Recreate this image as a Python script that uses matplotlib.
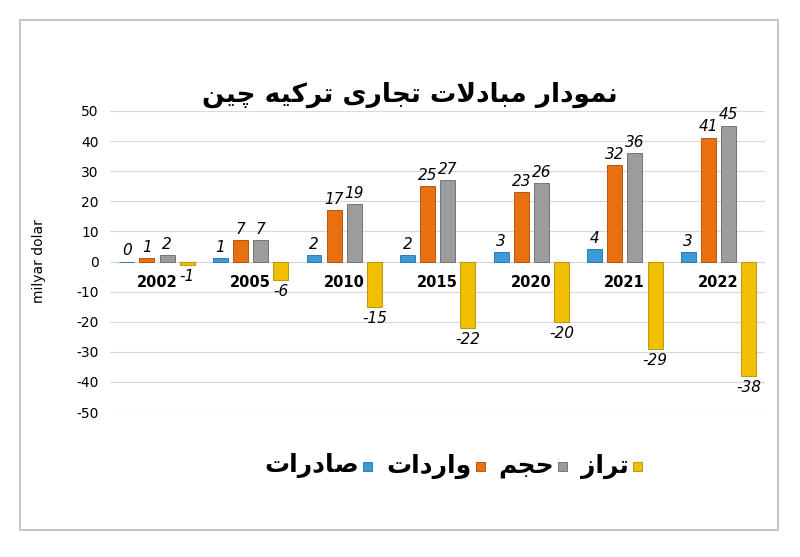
import matplotlib
matplotlib.use("Agg")
import matplotlib.pyplot as plt
from matplotlib.patches import Rectangle

plt.rcParams['axes.unicode_minus'] = False

years = ["2002", "2005", "2010", "2015", "2020", "2021", "2022"]
exports = [0, 1, 2, 2, 3, 4, 3]
imports = [1, 7, 17, 25, 23, 32, 41]
volume = [2, 7, 19, 27, 26, 36, 45]
balance = [-1, -6, -15, -22, -20, -29, -38]
series_names = ["صادرات", "واردات", "حجم", "تراز"]
title = "نمودار مبادلات تجاری ترکیه چین"

FORMS = {  # isol, fina, init, medi
    'ا': (0xFE8D, 0xFE8E, None, None), 'ب': (0xFE8F, 0xFE90, 0xFE91, 0xFE92),
    'ت': (0xFE95, 0xFE96, 0xFE97, 0xFE98), 'ج': (0xFE9D, 0xFE9E, 0xFE9F, 0xFEA0),
    'ح': (0xFEA1, 0xFEA2, 0xFEA3, 0xFEA4), 'د': (0xFEA9, 0xFEAA, None, None),
    'ر': (0xFEAD, 0xFEAE, None, None), 'ز': (0xFEAF, 0xFEB0, None, None),
    'ص': (0xFEB9, 0xFEBA, 0xFEBB, 0xFEBC), 'ل': (0xFEDD, 0xFEDE, 0xFEDF, 0xFEE0),
    'م': (0xFEE1, 0xFEE2, 0xFEE3, 0xFEE4), 'ن': (0xFEE5, 0xFEE6, 0xFEE7, 0xFEE8),
    'ه': (0xFEE9, 0xFEEA, 0xFEEB, 0xFEEC), 'و': (0xFEED, 0xFEEE, None, None),
    'ی': (0xFBFC, 0xFBFD, 0xFBFE, 0xFBFF), 'ک': (0xFB8E, 0xFB8F, 0xFB90, 0xFB91),
    'چ': (0xFB7A, 0xFB7B, 0xFB7C, 0xFB7D),
    'LA': (0xFEFB, 0xFEFC, None, None),
}

def shape(text):
    chars = list(text)
    toks = []
    i = 0
    while i < len(chars):
        if chars[i] == 'ل' and i + 1 < len(chars) and chars[i + 1] == 'ا':
            toks.append('LA'); i += 2
        else:
            toks.append(chars[i]); i += 1
    out = []
    for k, t in enumerate(toks):
        if t not in FORMS:
            out.append(t); continue
        prev = toks[k - 1] if k > 0 else None
        nxt = toks[k + 1] if k + 1 < len(toks) else None
        pj = prev in FORMS and FORMS[prev][2] is not None
        nj = FORMS[t][2] is not None and nxt in FORMS
        f = FORMS[t]
        if pj and nj: c = f[3]
        elif pj: c = f[1]
        elif nj: c = f[2]
        else: c = f[0]
        out.append(chr(c))
    return "".join(out)[::-1]

colors = ["#3E9AD6", "#E8700F", "#9C9C9C", "#F0C000"]
edges = ["#1F6FA8", "#A84A05", "#666666", "#B08C00"]
data = [exports, imports, volume, balance]

fig = plt.figure(figsize=(8, 5.57), dpi=100)
fig.patches.append(Rectangle((20/800, 1-530/557), 758/800, 510/557, transform=fig.transFigure,
                             fill=False, edgecolor="#BBBBBB", lw=1.2))
ax = fig.add_axes([110/800, 1-412/557, 655/800, 301/557])
ax.set_ylim(-50, 50)
ax.set_xlim(-0.5, 6.5)
ax.set_yticks(range(-50, 51, 10))
ax.yaxis.grid(True, color="#D9D9D9", lw=0.9)
ax.set_axisbelow(True)
for s in ax.spines.values():
    s.set_visible(False)
ax.set_xticks([])
ax.tick_params(axis='y', length=0, labelsize=10, pad=8)
ax.set_ylabel("milyar dolar", fontsize=10, labelpad=22)

off = [-0.32, -0.105, 0.11, 0.325]
w = 0.16
for j in range(4):
    xs = [i + off[j] for i in range(len(years))]
    ax.bar(xs, data[j], width=w, color=colors[j], edgecolor=edges[j], lw=0.6)
    for x, v in zip(xs, data[j]):
        if v >= 0:
            ax.text(x, v + 1.2, str(v), ha='center', va='bottom', fontsize=11, style='italic')
        else:
            ax.text(x, v - 1.5, str(v), ha='center', va='top', fontsize=11, style='italic')
for i, y in enumerate(years):
    ax.text(i, -7, y, ha='center', va='center', fontsize=10.5, fontweight='bold')

fam = ['DejaVu Sans', 'Noto Sans']
fig.text(410/800, 1-95/557, shape(title), ha='center', va='center', fontsize=19,
         fontweight='bold', family=fam)

# legend laid out right-to-left, starting at the right
renderer = fig.canvas.get_renderer()
x = 642
for j in [3, 2, 1, 0]:
    sq = 9
    fig.patches.append(Rectangle(((x - sq)/800, 1-471/557), sq/800, sq/557, transform=fig.transFigure,
                                 facecolor=colors[j], edgecolor=edges[j], lw=0.6))
    tx = x - sq - 4
    t = fig.text(tx/800, 1-466/557, shape(series_names[j]), ha='right', va='center',
                 fontsize=18, fontweight='bold', family=fam)
    wpx = t.get_window_extent(renderer).width
    x = tx - wpx - 14

fig.savefig("out.png", dpi=100)
